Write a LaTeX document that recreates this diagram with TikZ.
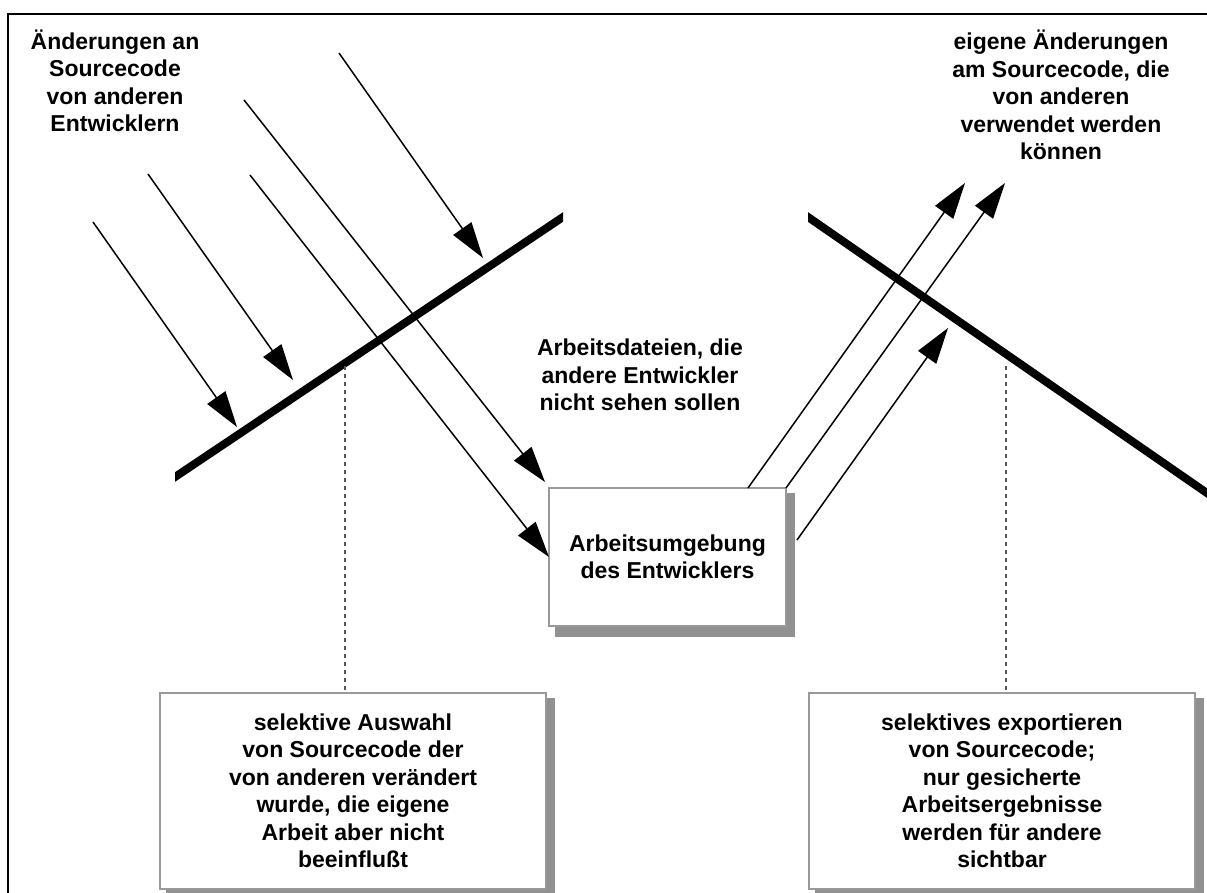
\documentclass[tikz,border=0pt]{standalone}
\usepackage{fontspec}
\setmainfont{Liberation Sans}
\usetikzlibrary{arrows.meta}
\definecolor{boxedge}{HTML}{999999}
\definecolor{boxshadow}{HTML}{919191}
\definecolor{guide}{HTML}{555555}
\pgfdeclarelayer{bg}
\pgfsetlayers{bg,main}
\begin{document}
\begin{tikzpicture}[x=1pt,y=-1pt,
  lbl/.style={align=center, inner sep=0pt, outer sep=0pt,
    font=\bfseries\fontsize{23}{27.5}\selectfont},
  panel/.style={lbl, draw=boxedge, line width=1.5pt, fill=white},
  flow/.style={line width=1.5pt, -{Triangle[length=36pt,width=22pt]}},
  barrier/.style={line width=8pt, line cap=butt},
  guideline/.style={draw=guide, line width=1.2pt, dash pattern=on 4pt off 4pt}]
\useasboundingbox (0,0) rectangle (1207,893);

% outer frame (top and left edges)
\draw[line width=2.5pt] (8,893) |- (1207,14);

% captions
\node[lbl] (incoming) at (115,81) {Änderungen an\\Sourcecode\\von anderen\\Entwicklern};
\node[lbl] (outgoing) at (1061,95) {eigene Änderungen\\am Sourcecode, die\\von anderen\\verwendet werden\\können};
\node[lbl] (private) at (640,375) {Arbeitsdateien, die\\andere Entwickler\\nicht sehen sollen};

% boxes
\node[panel, minimum width=237pt, minimum height=138pt] (env) at (667.5,557)
  {Arbeitsumgebung\\des Entwicklers};
\node[panel, minimum width=386pt, minimum height=196pt] (select) at (353,791)
  {selektive Auswahl\\von Sourcecode der\\von anderen verändert\\wurde, die eigene\\Arbeit aber nicht\\beeinflußt};
\node[panel, minimum width=386pt, minimum height=196pt] (export) at (1002,791)
  {selektives exportieren\\von Sourcecode;\\nur gesicherte\\Arbeitsergebnisse\\werden für andere\\sichtbar};

% drop shadows behind the boxes
\begin{pgfonlayer}{bg}
  \foreach \b in {env,select,export}
    \fill[boxshadow] ([shift={(6,5)}]\b.north west) rectangle ([shift={(9,11)}]\b.south east);
\end{pgfonlayer}

% incoming changes
\coordinate (in1) at (93,222);   \coordinate (hit1) at (237,427);
\coordinate (in2) at (148,174);  \coordinate (hit2) at (293,380);
\coordinate (in3) at (250,175);
\coordinate (in4) at (244,100);  \coordinate (hit4) at (545,482);
\coordinate (in5) at (339,53);   \coordinate (hit5) at (483,258);
\draw[flow] (in1) -- (hit1);
\draw[flow] (in2) -- (hit2);
\draw[flow] (in3) -- (env.west);
\draw[flow] (in4) -- (hit4);
\draw[flow] (in5) -- (hit5);

% outgoing changes
\coordinate (outA) at (748,488);  \coordinate (endA) at (965,183);
\coordinate (endB) at (1005,183);
\coordinate (outC) at (797,540);  \coordinate (endC) at (948,328);
\draw[flow] (outA) -- (endA);
\draw[flow] (env.north east) -- (endB);
\draw[flow] (outC) -- (endC);

% filter barriers
\begin{scope}
  \clip (175,0) rectangle (563,893);
  \draw[barrier] (165,483.7) -- (573,210.3);
\end{scope}
\begin{scope}
  \clip (808,0) rectangle (1207,893);
  \draw[barrier] (798,210.1) -- (1217,500);
\end{scope}

% guide lines from the barriers to the explanations
\coordinate (gL) at (345,366);
\coordinate (gR) at (1006,366);
\draw[guideline] (gL) -- (gL |- select.north);
\draw[guideline] (gR) -- (gR |- export.north);
\end{tikzpicture}
\end{document}
